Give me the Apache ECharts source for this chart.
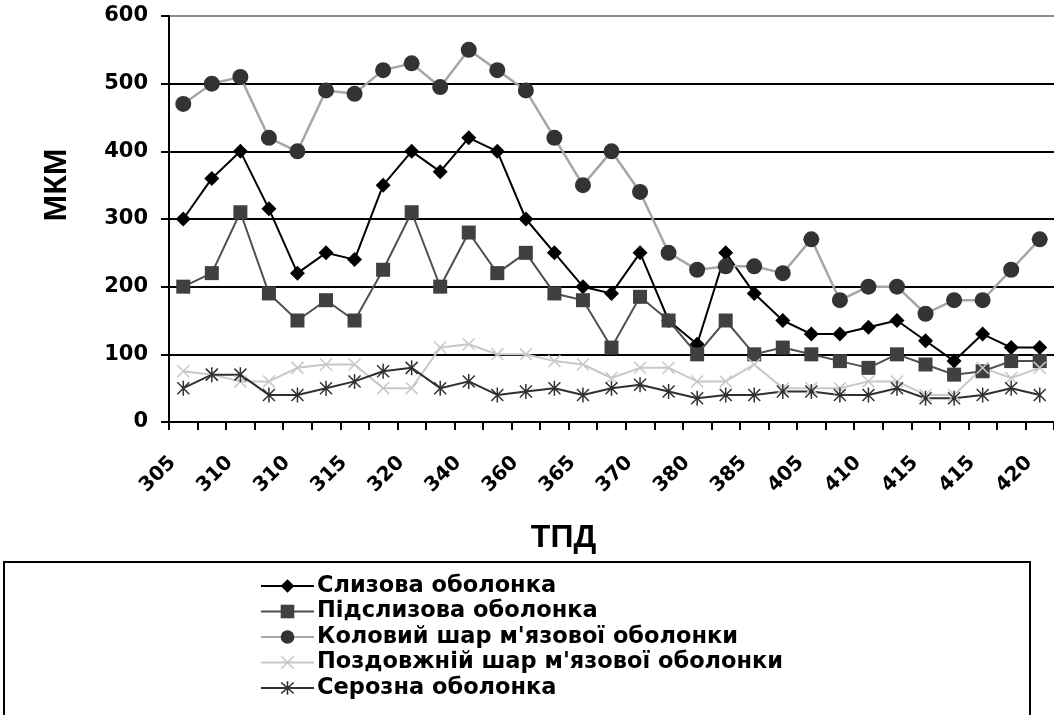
<!DOCTYPE html>
<html><head><meta charset="utf-8">
<script src="https://cdn.jsdelivr.net/npm/echarts@6/dist/echarts.min.js"></script>
<style>html,body{margin:0;padding:0;background:#fff}#c{width:1054px;height:715px}</style>
</head><body><div id="c"></div>
<script>
const categories = ['305','310','310','310','310','315','315','320','320','330','340','350','360','360','365','370','370','375','380','385','385','395','405','410','410','415','415','415','415','420','420'];
const yTicks = [0, 100, 200, 300, 400, 500, 600];
const seriesNames = ['Слизова оболонка','Підслизова оболонка','Коловий шар м\'язової оболонки','Поздовжній шар м\'язової оболонки','Серозна оболонка'];
const mucosa      = [300,360,400,315,220,250,240,350,400,370,420,400,300,250,200,190,250,150,115,250,190,150,130,130,140,150,120,90,130,110,110];
const submucosa   = [200,220,310,190,150,180,150,225,310,200,280,220,250,190,180,110,185,150,100,150,100,110,100,90,80,100,85,70,75,90,90];
const circular    = [470,500,510,420,400,490,485,520,530,495,550,520,490,420,350,400,340,250,225,230,230,220,270,180,200,200,160,180,180,225,270];
const longitudinal= [75,70,60,60,80,85,85,50,50,110,115,100,100,90,85,65,80,80,60,60,85,50,50,50,60,60,40,40,80,65,80];
const serosa      = [50,70,70,40,40,50,60,75,80,50,60,40,45,50,40,50,55,45,35,40,40,45,45,40,40,50,35,35,40,50,40];

const FONT = '"Liberation Sans", Arial, sans-serif';
const WIDE = '"DejaVu Sans", "Liberation Sans", sans-serif';
const asterisk = 'path://M-1,-10L1,-10L1,10L-1,10Z M-8.7,-7.3L-7.3,-8.7L8.7,7.3L7.3,8.7Z M7.3,-8.7L8.7,-7.3L-7.3,8.7L-8.7,7.3Z';
const cross = 'path://M-8.7,-7.3L-7.3,-8.7L8.7,7.3L7.3,8.7Z M7.3,-8.7L8.7,-7.3L-7.3,8.7L-8.7,7.3Z';

const chart = echarts.init(document.getElementById('c'));
function mk(name, data, symbol, size, lineColor, markColor, lw) {
  return {
    name, type: 'line', data, symbol, symbolSize: size, showAllSymbol: true,
    lineStyle: { color: lineColor, width: lw || 2 },
    itemStyle: { color: markColor, borderWidth: 0 },
    emphasis: { disabled: true }
  };
}
const splitColors = yTicks.map((v, i) => i === yTicks.length - 1 ? '#8c8c8c' : '#000');
chart.setOption({
  animation: false,
  textStyle: { fontFamily: FONT },
  grid: { left: 169, top: 16, width: 893, height: 406, containLabel: false },
  xAxis: {
    type: 'category', data: categories, boundaryGap: true,
    name: 'ТПД', nameLocation: 'middle', nameGap: 100,
    nameTextStyle: { fontSize: 32, fontWeight: 'bold', color: '#000', fontFamily: FONT, padding: [0, 96, 0, 0] },
    axisLine: { lineStyle: { color: '#000', width: 2 } },
    axisTick: { show: true, interval: 0, length: 8, lineStyle: { color: '#000', width: 2 } },
    axisLabel: { interval: 1, rotate: 45, margin: 27, padding: [0, 15, 0, 0], fontSize: 20, fontWeight: 'bold', color: '#000', fontFamily: WIDE },
    splitLine: { show: false }
  },
  yAxis: {
    type: 'value', min: 0, max: 600, interval: 100,
    name: 'МКМ', nameLocation: 'middle', nameGap: 96,
    nameTextStyle: { fontSize: 32, fontWeight: 'bold', color: '#000', fontFamily: FONT, padding: [0, 0, 0, 68] },
    axisLine: { show: true, lineStyle: { color: '#000', width: 2 } },
    axisTick: { show: true, length: 8, lineStyle: { color: '#000', width: 2 } },
    axisLabel: { margin: 21, fontSize: 21, fontWeight: 'bold', color: '#000', fontFamily: WIDE },
    splitLine: { show: true, lineStyle: { color: splitColors, width: 2 } }
  },
  legend: {
    orient: 'vertical', left: 255, top: 569, itemWidth: 53, itemHeight: 17, itemGap: 1.5,
    selectedMode: false,
    textStyle: { fontSize: 22.5, lineHeight: 24, fontWeight: 'bold', color: '#000', fontFamily: WIDE, padding: [0, 0, 0, -2] },
    data: seriesNames
  },
  graphic: [{
    type: 'rect', silent: true, z: -1,
    shape: { x: 4, y: 562, width: 1026, height: 200 },
    style: { fill: 'none', stroke: '#000', lineWidth: 2 }
  }],
  series: [
    mk(seriesNames[0], mucosa, 'diamond', 15, '#000000', '#000000'),
    mk(seriesNames[1], submucosa, 'rect', 14, '#505050', '#404040'),
    mk(seriesNames[2], circular, 'circle', 16, '#a6a6a6', '#333333', 2.5),
    mk(seriesNames[3], longitudinal, cross, 13, '#c8c8c8', '#c8c8c8'),
    mk(seriesNames[4], serosa, asterisk, [13, 15], '#303030', '#303030')
  ]
});
</script></body></html>
